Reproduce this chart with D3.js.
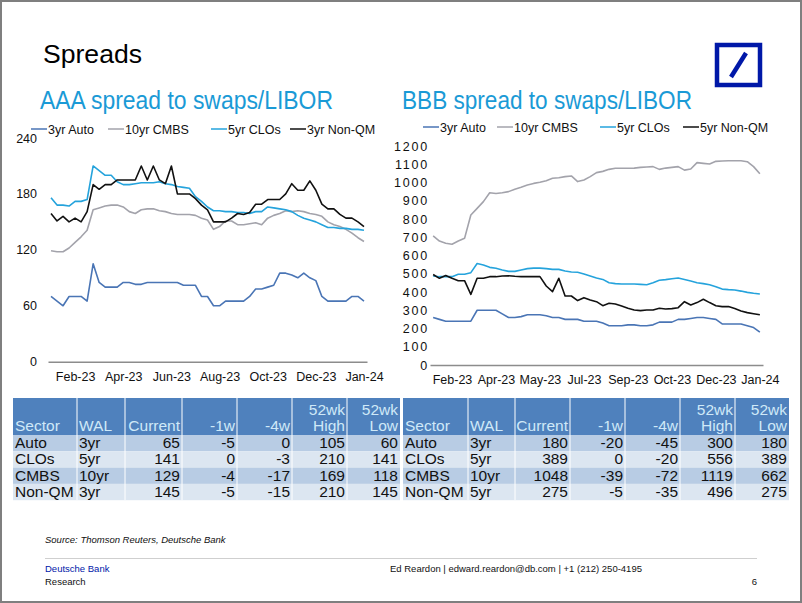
<!DOCTYPE html>
<html><head><meta charset="utf-8">
<script src="https://cdn.jsdelivr.net/npm/d3@7/dist/d3.min.js"></script>
<style>
html,body{margin:0;padding:0;background:#fff;}
svg text{font-family:"Liberation Sans",Arial,Helvetica,sans-serif;}
</style></head><body>
<svg id="c" width="802" height="603"></svg>
<script>
// ---------- DATA ----------
const seriesNamesAAA = ["3yr Auto","10yr CMBS","5yr CLOs","3yr Non-QM"];
const seriesNamesBBB = ["3yr Auto","10yr CMBS","5yr CLOs","5yr Non-QM"];
const xLabelsAAA = ["Feb-23","Apr-23","Jun-23","Aug-23","Oct-23","Dec-23","Jan-24"];
const xLabelIdxAAA = [4,12,20,28,36,44,52];
const xLabelsBBB = ["Feb-23","Apr-23","May-23","Jul-23","Sep-23","Oct-23","Dec-23","Jan-24"];
const xLabelIdxBBB = [3,10,17,24,31,38,45,52];
const yTicksAAA = [0,60,120,180,240];
const yTicksBBB = [0,100,200,300,400,500,600,700,800,900,1000,1100,1200];

const aaaAuto = [70,65,60,70,70,70,65,105,85,80,80,80,85,85,83,83,85,85,85,85,85,85,82,82,82,70,70,60,60,65,65,65,65,70,78,78,80,82,95,95,93,90,95,90,87,70,65,65,65,65,70,70,65];
const aaaCMBS = [119,118,118,122,128,134,141,163,165,167,168,168,166,161,159,163,164,164,162,161,159,158,158,158,157,154,152,142,145,151,151,147,147,148,149,147,154,157,159,162,161,162,161,159,158,156,150,147,145,142,138,133,129];
const aaaCLO = [176,168,168,167,172,172,174,210,205,200,200,193,190,190,191,192,192,192,193,191,190,188,187,186,177,172,166,162,162,161,161,160,160,159,161,161,166,165,164,163,161,157,154,152,150,147,144,144,143,143,142,142,141];
const aaaNonQM = [159,151,156,150,154,150,161,190,185,190,190,195,195,195,195,210,195,210,195,191,210,180,180,180,175,168,163,150,150,150,154,159,158,160,169,169,174,174,174,180,191,184,184,194,184,169,164,164,158,154,154,150,145];

const bbbAuto = [260,250,240,240,240,240,240,300,300,300,300,280,260,260,265,275,275,275,270,260,260,250,250,250,240,240,240,230,215,215,215,220,220,215,215,220,235,235,235,250,250,255,260,260,255,250,225,225,225,225,215,205,180];
const bbbCMBS = [707,679,667,662,679,694,822,858,895,944,940,944,950,963,974,986,995,1001,1010,1023,1026,1032,1036,1005,1014,1032,1054,1061,1072,1078,1078,1078,1079,1083,1085,1087,1072,1079,1083,1087,1068,1074,1109,1105,1101,1116,1118,1119,1119,1119,1114,1087,1048];
const bbbCLO = [488,484,484,484,497,497,506,556,548,535,530,521,513,513,521,528,531,531,528,524,524,515,510,508,499,488,477,469,451,446,444,444,444,442,440,451,464,468,473,477,469,460,451,446,440,429,416,413,411,405,398,393,389];
const bbbNonQM = [496,475,490,475,462,462,387,475,475,484,484,488,489,486,484,484,484,484,433,402,475,378,378,353,369,356,347,325,338,334,323,311,301,298,301,301,311,307,309,314,347,329,342,360,342,325,320,320,309,296,287,281,275];

const tableHeader = ["Sector","WAL","Current","-1w","-4w","52wk|High","52wk|Low"];
const aaaTable = [
  ["Auto","3yr",65,-5,0,105,60],
  ["CLOs","5yr",141,0,-3,210,141],
  ["CMBS","10yr",129,-4,-17,169,118],
  ["Non-QM","3yr",145,-5,-15,210,145]
];
const bbbTable = [
  ["Auto","3yr",180,-20,-45,300,180],
  ["CLOs","5yr",389,0,-20,556,389],
  ["CMBS","10yr",1048,-39,-72,1119,662],
  ["Non-QM","5yr",275,-5,-35,496,275]
];

// ---------- STYLE ----------
const colors = ["#4a75b5","#a3a3ab","#25a3dc","#111111"];
const blueTitle = "#1a9ad6";
const svg = d3.select("#c");

// page frame
svg.append("rect").attr("x",1).attr("y",1).attr("width",800).attr("height",601)
  .attr("fill","#fff").attr("stroke","#7f7f7f").attr("stroke-width",2);

// titles (condensed look via textLength)
svg.append("text").attr("x",43).attr("y",63).attr("font-size",26).attr("fill","#000")
  .attr("textLength",99).attr("lengthAdjust","spacingAndGlyphs").text("Spreads");
svg.append("text").attr("x",40).attr("y",109).attr("font-size",25).attr("fill",blueTitle)
  .attr("textLength",293).attr("lengthAdjust","spacingAndGlyphs").text("AAA spread to swaps/LIBOR");
svg.append("text").attr("x",402).attr("y",109).attr("font-size",25).attr("fill",blueTitle)
  .attr("textLength",290).attr("lengthAdjust","spacingAndGlyphs").text("BBB spread to swaps/LIBOR");

// logo
svg.append("rect").attr("x",717).attr("y",45).attr("width",43).attr("height",40)
  .attr("fill","none").attr("stroke","#0018a8").attr("stroke-width",4.5);
svg.append("line").attr("x1",731).attr("y1",77).attr("x2",746).attr("y2",53)
  .attr("stroke","#0018a8").attr("stroke-width",4.5);

// ---------- CHART ----------
function drawChart(cfg){
  const g = svg.append("g");
  const n = cfg.series[0].length;
  const x = d3.scalePoint().domain(d3.range(n)).range(cfg.xRange).padding(0.5);
  const y = d3.scaleLinear().domain(cfg.yDomain).range(cfg.yRange);

  const xa = g.append("g").attr("transform",`translate(0,${cfg.yRange[0]})`)
    .call(d3.axisBottom(x).tickValues(cfg.xIdx).tickFormat((d,i)=>cfg.xLabels[i]).tickSize(0).tickSizeOuter(0).tickPadding(10));
  xa.select(".domain").attr("stroke","#8c8c8c").attr("stroke-width",1.5);
  xa.selectAll("text").attr("font-size",12.5).attr("fill","#111").attr("font-family","Liberation Sans, Arial");

  const ya = g.append("g").attr("transform",`translate(${cfg.xRange[0]},0)`)
    .call(d3.axisLeft(y).tickValues(cfg.yTicks).tickFormat(d3.format("d")).tickSize(0).tickPadding(cfg.yPad));
  ya.select(".domain").remove();
  ya.selectAll("text").attr("font-size",12.5).attr("fill","#111").attr("font-family","Liberation Sans, Arial")
    .attr("letter-spacing",cfg.yLetter);

  const line = d3.line().x((d,i)=>x(i)).y(d=>y(d));
  cfg.series.forEach((s,k)=>{
    g.append("path").datum(s).attr("d",line).attr("fill","none")
      .attr("stroke",colors[k]).attr("stroke-width",1.6).attr("stroke-linejoin","round");
  });

  cfg.names.forEach((nm,k)=>{
    const lx = cfg.legendX[k];
    g.append("line").attr("x1",lx).attr("x2",lx+cfg.legendLine).attr("y1",cfg.legendY).attr("y2",cfg.legendY)
      .attr("stroke",colors[k]).attr("stroke-width",1.5);
    g.append("text").attr("x",lx+cfg.legendLine+1).attr("y",cfg.legendY+4.5).attr("font-size",12.5)
      .attr("fill","#111").text(nm);
  });
}

drawChart({series:[aaaAuto,aaaCMBS,aaaCLO,aaaNonQM], names:seriesNamesAAA,
  xRange:[48,367], yRange:[361.7,138], yDomain:[0,240], yTicks:yTicksAAA, yPad:11, yLetter:0,
  xIdx:xLabelIdxAAA, xLabels:xLabelsAAA, legendX:[31,108,211,290], legendLine:16, legendY:129});
drawChart({series:[bbbAuto,bbbCMBS,bbbCLO,bbbNonQM], names:seriesNamesBBB,
  xRange:[430,763], yRange:[365,146], yDomain:[0,1200], yTicks:yTicksBBB, yPad:1, yLetter:1.8,
  xIdx:xLabelIdxBBB, xLabels:xLabelsBBB, legendX:[423,497,600,683], legendLine:16, legendY:127});

// ---------- TABLES ----------
function drawTable(x0, widths, rows){
  const g = svg.append("g");
  const edges = [x0]; widths.forEach(w=>edges.push(edges[edges.length-1]+w));
  const top = 398, headH = 37, rowH = 16.3;
  const x1 = edges[edges.length-1];
  g.append("rect").attr("x",x0).attr("y",top).attr("width",x1-x0).attr("height",headH).attr("fill","#4f81bd");
  rows.forEach((r,i)=>{
    g.append("rect").attr("x",x0).attr("y",top+headH+i*rowH).attr("width",x1-x0).attr("height",rowH)
      .attr("fill", i%2===0 ? "#b8cce4" : "#dce6f1");
  });
  tableHeader.forEach((h,j)=>{
    const parts = h.split("|");
    const left = j<2;
    const tx = left ? edges[j]+2 : edges[j+1]-2;
    parts.forEach((p,pi)=>{
      g.append("text").attr("x",tx).attr("y",top+headH-4-(parts.length-1-pi)*16)
        .attr("text-anchor", left?"start":"end").attr("font-size",15.5).attr("fill","#cfe9f8").text(p);
    });
  });
  rows.forEach((r,i)=>{
    r.forEach((v,j)=>{
      const left = j<2;
      g.append("text").attr("x", left ? edges[j]+2 : edges[j+1]-2)
        .attr("y", top+headH+i*rowH+13)
        .attr("text-anchor", left?"start":"end").attr("font-size",15.5).attr("fill","#111").text(v);
    });
  });
  edges.slice(1,-1).forEach(e=>{
    g.append("line").attr("x1",e).attr("x2",e).attr("y1",top).attr("y2",top+headH+rows.length*rowH)
      .attr("stroke","#fff").attr("stroke-width",1);
  });
}
drawTable(13,[64,48,57,55,55,55,53],aaaTable);
drawTable(403,[65,47,55,55,55,55,54],bbbTable);

// ---------- FOOTER ----------
svg.append("text").attr("x",45).attr("y",543).attr("font-size",9.5).attr("font-style","italic")
  .attr("fill","#111").text("Source: Thomson Reuters, Deutsche Bank");
svg.append("line").attr("x1",45).attr("x2",757).attr("y1",558.5).attr("y2",558.5)
  .attr("stroke","#cfcfcf").attr("stroke-width",1);
svg.append("text").attr("x",45).attr("y",572).attr("font-size",9.5).attr("fill","#0018a8").text("Deutsche Bank");
svg.append("text").attr("x",45).attr("y",585).attr("font-size",9.5).attr("fill","#111").text("Research");
svg.append("text").attr("x",390).attr("y",572).attr("font-size",9.5).attr("fill","#111")
  .text("Ed Reardon | edward.reardon@db.com | +1 (212) 250-4195");
svg.append("text").attr("x",757).attr("y",585).attr("text-anchor","end").attr("font-size",9.5).attr("fill","#111").text("6");
</script>
</body></html>
